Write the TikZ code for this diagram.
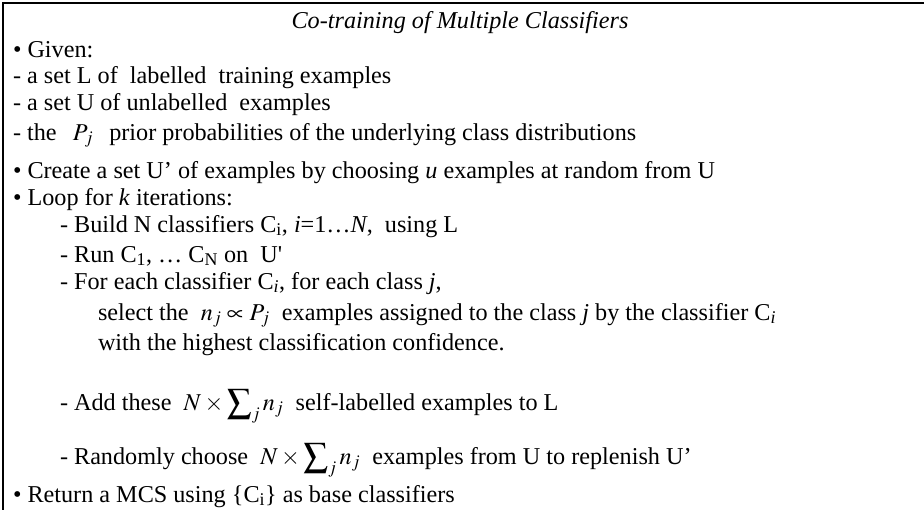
\documentclass[tikz,border=0pt]{standalone}
\usepackage{mathptmx}
\usepackage{fontspec}
\setmainfont{Liberation Serif}
\newcommand{\straightquote}{\XeTeXglyph\XeTeXcharglyph"0027\relax}
\begin{document}
\begin{tikzpicture}[x=1pt,y=-1pt,
  txt/.style={inner sep=0pt,outer sep=0pt,anchor=base west,font=\fontsize{24.2}{28}\selectfont},
  frame/.style={line width=2.2pt,line cap=rect}]
\useasboundingbox (0,0) rectangle (924,509);
\draw[frame] (3,509) -- (3,3) -- (924,3);
\node[txt,anchor=base] (title) at (460,28) {\itshape Co-training of Multiple Classifiers};
\node[txt] (given) at (13,57) {• Given:};
\node[txt] (setL) at (13,83) {- a set L of\ \ labelled\ \ training examples};
\node[txt] (setU) at (13,110) {- a set U of unlabelled\ \ examples};
\node[txt] (prior) at (13,140) {- the\ \ \,$P_j$\ \ \,prior probabilities of the underlying class distributions};
\node[txt] (create) at (13,178) {• Create a set U’ of examples by choosing \textit{u} examples at random from U};
\node[txt] (loop) at (13,205) {• Loop for \textit{k} iterations:};
\node[txt] (build) at (60,232) {- Build N classifiers C\textsubscript{i}, \textit{i}=1…\textit{N},\ \ using L};
\node[txt] (run) at (60,262) {- Run C\textsubscript{1}, … C\textsubscript{N} on\ \ U\straightquote};
\node[txt] (foreach) at (60,289) {- For each classifier C\textsubscript{\textit{i}}, for each class \textit{j},};
\node[txt] (select) at (98,320) {select the\ \ $n_j\propto P_j$\ \ examples assigned to the class \textit{j} by the classifier C\textsubscript{\textit{i}}};
\node[txt] (with) at (98,350) {with the highest classification confidence.};
\node[txt] (add) at (60,410) {- Add these\ \ $N\times\displaystyle\sum\nolimits_j n_j$\ \ self-labelled examples to L};
\node[txt] (rand) at (60,464) {- Randomly choose\ \ $N\times\displaystyle\sum\nolimits_j n_j$\ \ examples from U to replenish U’};
\node[txt] (ret) at (13,502) {• Return a MCS using \{C\textsubscript{i}\} as base classifiers};
\end{tikzpicture}
\end{document}
